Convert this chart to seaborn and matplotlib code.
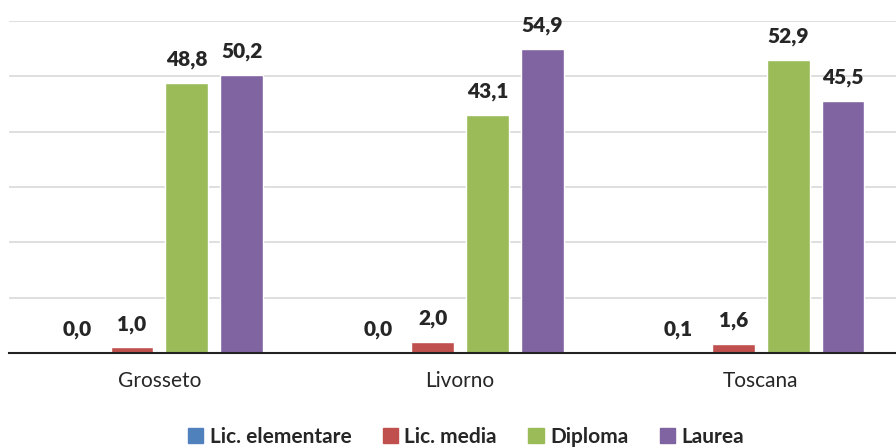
import matplotlib
matplotlib.use("Agg")
from matplotlib import pyplot as plt
import seaborn as sns
import pandas as pd

categories = ['Grosseto', 'Livorno', 'Toscana']
series_names = ['Lic. elementare', 'Lic. media', 'Diploma', 'Laurea']
lic_elementare = [0.0, 0.0, 0.1]
lic_media = [1.0, 2.0, 1.6]
diploma = [48.8, 43.1, 52.9]
laurea = [50.2, 54.9, 45.5]
colors = ['#4F81BD', '#C0504D', '#9BBB59', '#8064A2']

rows = []
for name, vals in zip(series_names, [lic_elementare, lic_media, diploma, laurea]):
    for cat, v in zip(categories, vals):
        rows.append({'area': cat, 'titolo': name, 'valore': v})
df = pd.DataFrame(rows)

sns.set_style('white')
plt.rcParams['font.family'] = ['Lato', 'DejaVu Sans']

fig = plt.figure(figsize=(8.96, 4.48), dpi=100)
ax = fig.add_axes([9 / 896, 95 / 448, 887 / 896, 332 / 448])
sns.barplot(data=df, x='area', y='valore', hue='titolo', hue_order=series_names,
            palette=colors, saturation=1, width=0.73, gap=0.22, ax=ax, legend=False)

# etichette dei valori con la virgola decimale
for cont in ax.containers:
    labels = [f'{b.get_height():.1f}'.replace('.', ',') for b in cont]
    ax.bar_label(cont, labels=labels, padding=10, fontsize=15, fontweight='heavy')

ax.set_ylim(0, 60)
ax.set_xlim(-0.5, 2.45)
ax.set_yticks(range(0, 61, 10))
ax.set_yticklabels([])
ax.tick_params(axis='y', length=0)
ax.tick_params(axis='x', length=0, labelsize=15, pad=13)
ax.yaxis.grid(True, color='#D9D9D9', linewidth=1.2)
ax.set_axisbelow(True)
for s in ['top', 'right', 'left']:
    ax.spines[s].set_visible(False)
ax.spines['bottom'].set_color('#222222')
ax.spines['bottom'].set_linewidth(1.5)
ax.set_xlabel('')
ax.set_ylabel('')

handles = [plt.Rectangle((0, 0), 1, 1, color=c) for c in colors]
fig.legend(handles, series_names, loc='center', bbox_to_anchor=(0.52, 0.025), ncol=4,
           frameon=False, prop={'weight': 'bold', 'size': 15}, handlelength=0.75,
           handleheight=0.75, handletextpad=0.3, columnspacing=1.5)

fig.savefig('out.png', dpi=100)
